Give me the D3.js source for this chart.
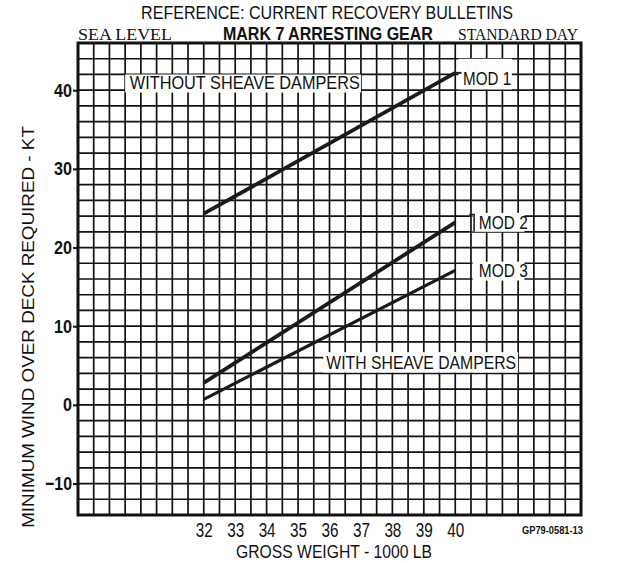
<!DOCTYPE html>
<html>
<head>
<meta charset="utf-8">
<script src="https://cdn.jsdelivr.net/npm/d3@7"></script>
<style>
  body { margin: 0; background: #fff; }
  text { fill: #111; }
  .narrow { font-family: "Liberation Sans Narrow", "Liberation Sans", sans-serif; }
  .serif { font-family: "Liberation Serif", "DejaVu Serif", serif; }
</style>
</head>
<body>
<div class="chart"></div>
<script>
// data
var weights = [32, 40];           // gross weight, 1000 lb
var mod1 = [24.3, 42.2];          // without sheave dampers
var mod2 = [2.8, 23.2];           // with sheave dampers
var mod3 = [0.7, 17.1];
var xTicks = [32, 33, 34, 35, 36, 37, 38, 39, 40];
var yTicks = [-10, 0, 10, 20, 30, 40];

var svgWidth = 617;
var svgHeight = 563;
var margin = { top: 43, right: 36, bottom: 48, left: 78 };
var width = svgWidth - margin.left - margin.right;
var height = svgHeight - margin.top - margin.bottom;

var svg = d3.select(".chart")
  .append("svg")
  .attr("width", svgWidth)
  .attr("height", svgHeight);

var chart = svg.append("g")
  .attr("transform", "translate(" + margin.left + "," + margin.top + ")");

var x = d3.scaleLinear().domain([28, 44]).range([0, width]);
var y = d3.scaleLinear().domain([-14, 46]).range([height, 0]);

// squeeze a text horizontally so it spans the width seen on the scan
function label(parent, txt, px, py, w, size, cls, opts) {
  opts = opts || {};
  var t = parent.append("text")
    .attr("class", cls)
    .attr("font-size", size)
    .attr("font-weight", opts.bold ? "bold" : null)
    .attr("text-anchor", opts.anchor || "start")
    .text(txt);
  var k = w / t.node().getComputedTextLength();
  t.attr("transform", "translate(" + px + "," + py + ")" +
    (opts.rotate ? " rotate(" + opts.rotate + ")" : "") + " scale(" + k + ",1)");
  return t;
}

// grid - every half thousand lb, every 2 kt
chart.append("g")
  .selectAll("line")
  .data(d3.range(28.5, 44, 0.5))
  .enter().append("line")
    .attr("x1", function(d) { return x(d); })
    .attr("x2", function(d) { return x(d); })
    .attr("y1", 0)
    .attr("y2", height)
    .attr("stroke", "#111")
    .attr("stroke-width", 1.7);

chart.append("g")
  .selectAll("line")
  .data(d3.range(-12, 46, 2))
  .enter().append("line")
    .attr("x1", 0)
    .attr("x2", width)
    .attr("y1", function(d) { return y(d); })
    .attr("y2", function(d) { return y(d); })
    .attr("stroke", "#111")
    .attr("stroke-width", 1.7);

chart.append("rect")
  .attr("width", width)
  .attr("height", height)
  .attr("fill", "none")
  .attr("stroke", "#111")
  .attr("stroke-width", 3);

// white patches behind the labels (they blank out the grid)
function patch(x0, x1, y0, y1) {
  chart.append("rect")
    .attr("x", x(x0))
    .attr("y", y(y1))
    .attr("width", x(x1) - x(x0))
    .attr("height", y(y0) - y(y1))
    .attr("fill", "#fff");
}
patch(29.5, 37.0, 39.7, 42.0);
patch(40.1, 41.8, 40.1, 44.0);
patch(40.55, 42.2, 22.0, 24.4);
patch(40.55, 42.2, 15.8, 18.2);
patch(35.8, 42.0, 4.1, 6.7);

// curves
var line = d3.line()
  .x(function(d) { return x(d[0]); })
  .y(function(d) { return y(d[1]); });

[mod1, mod2, mod3].forEach(function(s, i) {
  chart.append("path")
    .datum(d3.zip(weights, s))
    .attr("d", line)
    .attr("fill", "none")
    .attr("stroke", "#1a1a1a")
    .attr("stroke-width", i == 2 ? 3.2 : 3.8);
});

// leader ticks to the MOD labels
chart.append("line")
  .attr("x1", x(40)).attr("x2", x(40.2))
  .attr("y1", y(mod1[1])).attr("y2", y(mod1[1]))
  .attr("stroke", "#222").attr("stroke-width", 2);
chart.append("path")
  .attr("d", "M" + x(40.45) + "," + y(24.2) + "H" + x(40.6) + "V" + y(22.0))
  .attr("fill", "none").attr("stroke", "#222").attr("stroke-width", 1.6);

// annotations
label(chart, "WITHOUT SHEAVE DAMPERS", x(29.65), y(40.1), 230, 19, "narrow");
label(chart, "MOD 1", x(40.25), y(40.6), 48, 18, "narrow");
label(chart, "MOD 2", x(40.75), y(22.4), 49, 18, "narrow");
label(chart, "MOD 3", x(40.75), y(16.3), 49, 18, "narrow");
label(chart, "WITH SHEAVE DAMPERS", x(35.9), y(4.5), 190, 18, "narrow");

// axes
var bottomAxis = d3.axisBottom(x).tickValues(xTicks).tickSize(0).tickPadding(8);
var leftAxis = d3.axisLeft(y).tickValues(yTicks).tickSize(5).tickPadding(1);

var gx = chart.append("g")
  .attr("transform", "translate(0," + height + ")")
  .call(bottomAxis);
gx.select(".domain").remove();
gx.selectAll("text")
  .attr("class", "narrow")
  .attr("font-size", 20)
  .attr("fill", "#111")
  .attr("dy", "0.71em")
  .attr("textLength", 17)
  .attr("lengthAdjust", "spacingAndGlyphs");

var gy = chart.append("g").call(leftAxis);
gy.select(".domain").remove();
gy.selectAll("line").attr("stroke", "#111").attr("stroke-width", 2);
gy.selectAll("text")
  .attr("class", "narrow")
  .attr("font-size", 19)
  .attr("font-weight", "bold")
  .attr("fill", "#111")
  .attr("textLength", function(d) { return String(d).length * 9; })
  .attr("lengthAdjust", "spacingAndGlyphs");

// titles
label(svg, "REFERENCE: CURRENT RECOVERY BULLETINS", 327, 19, 372, 19, "narrow", { anchor: "middle" });
label(svg, "SEA LEVEL", 78, 40, 94, 16, "serif");
label(svg, "MARK 7 ARRESTING GEAR", 223, 40, 210, 18, "narrow", { bold: true });
label(svg, "STANDARD DAY", 458, 40, 120, 16, "serif");
label(svg, "MINIMUM WIND OVER DECK REQUIRED - KT", 34, 327, 402, 16, "narrow", { anchor: "middle", rotate: -90 });
label(svg, "GROSS WEIGHT - 1000 LB", 334, 558, 196, 18, "narrow", { anchor: "middle" });
label(svg, "GP79-0581-13", 522, 534, 61, 11, "narrow", { bold: true });
</script>
</body>
</html>
